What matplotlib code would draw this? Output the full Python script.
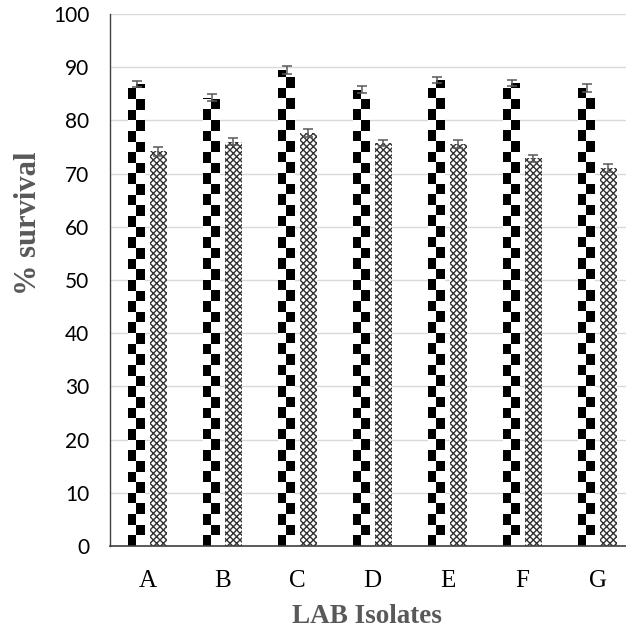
"""Survival of LAB isolates: two paired series with a checker / cross-hatch fill."""
import numpy as np
import matplotlib
matplotlib.use('Agg')
import matplotlib.pyplot as plt

isolates = ['A', 'B', 'C', 'D', 'E', 'F', 'G']
survival_1 = [86.8, 84.3, 89.5, 85.8, 87.6, 87.1, 86.1]
survival_1_err = [0.6, 0.7, 0.7, 0.65, 0.65, 0.55, 0.7]
survival_2 = [74.2, 76.0, 77.6, 75.7, 75.6, 72.9, 71.1]
survival_2_err = [0.8, 0.6, 0.7, 0.6, 0.7, 0.65, 0.75]
y_ticks = list(range(0, 101, 10))

W, H = 626, 638
BAR_W = 0.22
OFFSET = 0.145
CELL_H = 2.0  # checker cell height in data units
ERR_COLOR = '#595959'
TITLE_COLOR = '#595959'


def checker(rows):
    img = np.ones((rows, 2))
    for r in range(rows):
        img[r, r % 2] = 0
    return img


fig = plt.figure(figsize=(W / 100, H / 100), dpi=100)
ax = fig.add_axes([110 / W, 1 - 546 / H, 525 / W, 532 / H])
x = np.arange(len(isolates))

bars1 = ax.bar(x - OFFSET, survival_1, BAR_W, color='white', linewidth=0, zorder=2)
for b in bars1:
    x0, w, h = b.get_x(), b.get_width(), b.get_height()
    rows = int(np.ceil(h / CELL_H))
    im = ax.imshow(checker(rows), cmap='gray', vmin=0, vmax=1, origin='lower',
                   extent=(x0, x0 + w, 0, rows * CELL_H), aspect='auto',
                   interpolation='nearest', zorder=2.1)
    im.set_clip_path(b)

plt.rcParams['hatch.color'] = '#333333'
plt.rcParams['hatch.linewidth'] = 1.0
ax.bar(x + OFFSET, survival_2, BAR_W, color='white', hatch='xxxxx',
       edgecolor='#333333', linewidth=0, zorder=2)

ax.errorbar(x - OFFSET, survival_1, yerr=survival_1_err, fmt='none', ecolor=ERR_COLOR,
            elinewidth=1.1, capsize=3.3, capthick=1.1, zorder=4)
ax.errorbar(x + OFFSET, survival_2, yerr=survival_2_err, fmt='none', ecolor=ERR_COLOR,
            elinewidth=1.1, capsize=3.3, capthick=1.1, zorder=4)

ax.set_xlim(-0.5, len(isolates) - 0.5)
ax.set_ylim(0, 100)
ax.set_yticks(y_ticks)
ax.set_yticklabels([str(v) for v in y_ticks], fontfamily='Lato', fontsize=15)
ax.set_xticks(x)
ax.set_xticklabels(isolates, fontfamily='Liberation Serif', fontsize=18)
ax.tick_params(axis='y', length=0, pad=15)
ax.tick_params(axis='x', length=0, pad=17)
ax.yaxis.grid(True, color='#d9d9d9', linewidth=1.0)
ax.set_axisbelow(True)
for side in ('top', 'right'):
    ax.spines[side].set_visible(False)
ax.spines['left'].set_color('#404040')
ax.spines['bottom'].set_color('#404040')
ax.spines['left'].set_linewidth(1.0)
ax.spines['bottom'].set_linewidth(1.2)

fig.text(367 / W, 1 - 623 / H, 'LAB Isolates', ha='center', va='baseline',
         fontfamily='Liberation Serif', fontweight='bold', fontsize=19.5, color=TITLE_COLOR)
fig.text(29 / W, 1 - 223 / H, '% survival', rotation=90, ha='center', va='center',
         fontfamily='Liberation Serif', fontweight='bold', fontsize=22, color=TITLE_COLOR)

fig.savefig('out.png', dpi=100)
